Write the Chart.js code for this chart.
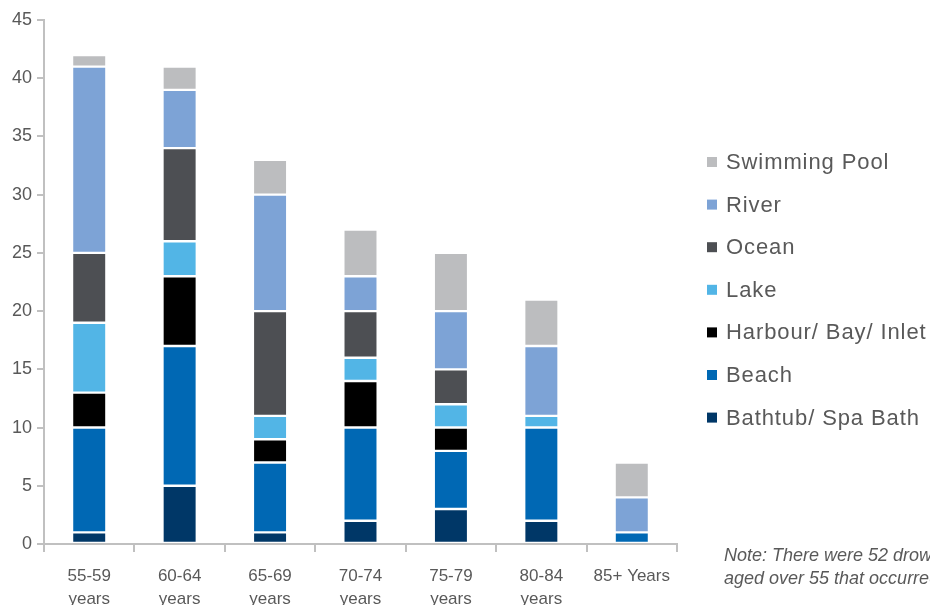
<!DOCTYPE html>
<html>
<head>
<meta charset="utf-8">
<script src="https://cdn.jsdelivr.net/npm/chart.js@4"></script>
<style>
  html, body { margin: 0; padding: 0; background: #fff; }
  #wrap { width: 930px; height: 605px; position: relative; }
</style>
</head>
<body>
<div id="wrap"><canvas id="chart"></canvas></div>
<script>
// ---- data ----
const categories = [['55-59', 'years'], ['60-64', 'years'], ['65-69', 'years'], ['70-74', 'years'], ['75-79', 'years'], ['80-84', 'years'], '85+ Years'];

const bathtub  = [1, 5, 1, 2, 3, 2, 0];
const beach    = [9, 12, 6, 8, 5, 8, 1];
const harbour  = [3, 6, 2, 4, 2, 0, 0];
const lake     = [6, 3, 2, 2, 2, 1, 0];
const ocean    = [6, 8, 9, 4, 3, 0, 0];
const river    = [16, 5, 10, 3, 5, 6, 3];
const pool     = [1, 2, 3, 4, 5, 4, 3];

const seriesNames = ['Bathtub/ Spa Bath', 'Beach', 'Harbour/ Bay/ Inlet', 'Lake', 'Ocean', 'River', 'Swimming Pool'];
const seriesColors = ['#003767', '#0068b4', '#000000', '#52b5e6', '#4d4f53', '#7da3d6', '#bcbdbf'];
const seriesData = [bathtub, beach, harbour, lake, ocean, river, pool];

const yTicks = [0, 5, 10, 15, 20, 25, 30, 35, 40, 45];

const noteLines = ['Note: There were 52 drowning deaths of people', 'aged over 55 that occurred in other locations'];

const textColor = '#595959';
const axisColor = '#c0c0c0';

// custom legend + note on the right, drawn after the chart
const sideLegend = {
    id: 'sideLegend',
    afterDraw(chart) {
        const ctx = chart.ctx;
        ctx.save();
        ctx.textBaseline = 'middle';
        ctx.font = '22px "Liberation Sans", Arial, sans-serif';
        ctx.letterSpacing = '0.9px';
        const items = chart.data.datasets.slice().reverse();
        items.forEach((ds, i) => {
            const y = 162 + i * 42.6;
            ctx.fillStyle = ds.backgroundColor;
            ctx.fillRect(707, y - 5, 10, 10);
            ctx.fillStyle = textColor;
            ctx.fillText(ds.label, 726, y + 1);
        });
        ctx.letterSpacing = '0px';
        ctx.font = 'italic 18px "Liberation Sans", Arial, sans-serif';
        ctx.fillStyle = textColor;
        ctx.textBaseline = 'alphabetic';
        noteLines.forEach((line, i) => ctx.fillText(line, 724, 561 + i * 23));
        ctx.restore();
    }
};

const ctx = document.getElementById('chart').getContext('2d');
new Chart(ctx, {
    type: 'bar',
    data: {
        labels: categories,
        datasets: seriesNames.map((name, i) => ({
            label: name,
            data: seriesData[i],
            backgroundColor: seriesColors[i],
            borderColor: '#ffffff',
            borderWidth: 1.2,
            borderSkipped: false,
            barPercentage: 0.38,
            categoryPercentage: 1.0
        }))
    },
    options: {
        responsive: true,
        maintainAspectRatio: false,
        animation: false,
        layout: { padding: { top: 20, right: 253, left: 0, bottom: 0 } },
        plugins: {
            legend: { display: false },
            tooltip: { enabled: false }
        },
        scales: {
            x: {
                stacked: true,
                grid: { offset: true, drawOnChartArea: false, drawTicks: true, tickLength: 8, color: axisColor, lineWidth: 2 },
                border: { color: axisColor, width: 2 },
                ticks: {
                    color: textColor,
                    font: { family: '"Liberation Sans", Arial, sans-serif', size: 17, lineHeight: 1.35 },
                    padding: 13,
                    maxRotation: 0,
                    autoSkip: false
                },
                afterFit: (scale) => { scale.height = 61; }
            },
            y: {
                stacked: true,
                min: 0,
                max: 45,
                afterBuildTicks: (scale) => { scale.ticks = yTicks.map(v => ({ value: v })); },
                grid: { drawOnChartArea: false, drawTicks: true, tickLength: 7, color: axisColor, lineWidth: 2 },
                border: { color: axisColor, width: 2 },
                ticks: {
                    color: textColor,
                    font: { family: '"Liberation Sans", Arial, sans-serif', size: 18 },
                    padding: 5
                },
                afterFit: (scale) => { scale.width = 44; }
            }
        }
    },
    plugins: [sideLegend]
});
</script>
</body>
</html>
